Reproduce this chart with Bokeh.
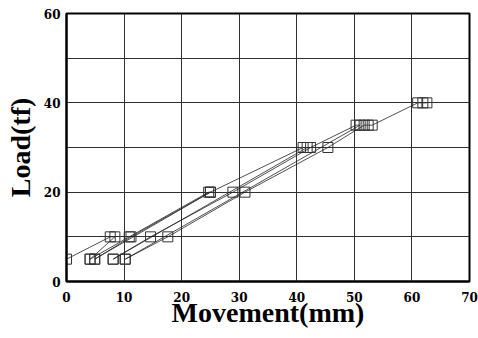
from bokeh.plotting import figure
from bokeh.models import Range1d, FixedTicker
from bokeh.embed import file_html
from bokeh.resources import INLINE

# Movement (mm) vs Load (tf), one list pair per loading cycle
cycle1_move = [0.0, 7.6, 8.4, 4.1]
cycle1_load = [5, 10, 10, 5]
cycle2_move = [4.1, 10.9, 24.7, 25.0, 4.9]
cycle2_load = [5, 10, 20, 20, 5]
cycle3_move = [4.9, 11.2, 25.0, 41.1, 41.8, 8.1]
cycle3_load = [5, 10, 20, 30, 30, 5]
cycle4_move = [8.1, 14.6, 28.9, 42.4, 50.3, 51.0, 10.2]
cycle4_load = [5, 10, 20, 30, 35, 35, 5]
cycle5_move = [10.2, 17.6, 31.0, 45.4, 51.7, 52.4, 53.1, 61.0, 61.9, 62.6]
cycle5_load = [5, 10, 20, 30, 35, 35, 35, 40, 40, 40]

x_ticks = [0, 10, 20, 30, 40, 50, 60, 70]
y_ticks = [0, 20, 40, 60]
x_grid = [10, 20, 30, 40, 50, 60]
y_grid = [10, 20, 30, 40, 50]

LABEL_FONT = "Liberation Serif"
TICK_FONT = "DejaVu Serif"

p = figure(width=478, height=338, output_backend="svg", toolbar_location=None,
           x_range=Range1d(0, 70), y_range=Range1d(0, 60),
           min_border_left=66, min_border_right=9, min_border_top=13, min_border_bottom=57)

cycles = [(cycle1_move, cycle1_load), (cycle2_move, cycle2_load), (cycle3_move, cycle3_load),
          (cycle4_move, cycle4_load), (cycle5_move, cycle5_load)]
for mx, ld in cycles:
    p.line(mx, ld, line_color="#222222", line_width=0.8)
    p.scatter(mx, ld, marker="square", size=10, fill_color=None,
              line_color="#333333", line_width=1)

p.outline_line_color = "black"
p.outline_line_width = 2
p.background_fill_color = "white"
p.border_fill_color = "white"

p.xaxis.ticker = FixedTicker(ticks=x_ticks)
p.yaxis.ticker = FixedTicker(ticks=y_ticks)
p.xgrid.ticker = FixedTicker(ticks=x_grid)
p.ygrid.ticker = FixedTicker(ticks=y_grid)
for g in (p.xgrid, p.ygrid):
    g.grid_line_color = "#303030"
    g.grid_line_width = 1
    g.grid_line_alpha = 1

for ax in (p.xaxis, p.yaxis):
    ax.axis_line_width = 2
    ax.axis_line_color = "black"
    ax.major_tick_line_color = None
    ax.minor_tick_line_color = None
    ax.major_tick_out = 0
    ax.major_tick_in = 0
    ax.major_label_text_font = TICK_FONT
    ax.major_label_text_font_style = "bold"
    ax.major_label_text_font_size = "12px"
    ax.major_label_text_color = "black"
    ax.axis_label_text_font = LABEL_FONT
    ax.axis_label_text_font_style = "bold"
    ax.axis_label_text_font_size = "28px"
    ax.axis_label_text_color = "black"

p.xaxis.axis_label = "Movement(mm)"
p.yaxis.axis_label = "Load(tf)"
p.xaxis.major_label_standoff = 10
p.yaxis.major_label_standoff = 6
p.xaxis.axis_label_standoff = -8
p.yaxis.axis_label_standoff = 5

open("out.html", "w").write(file_html(p, INLINE))
